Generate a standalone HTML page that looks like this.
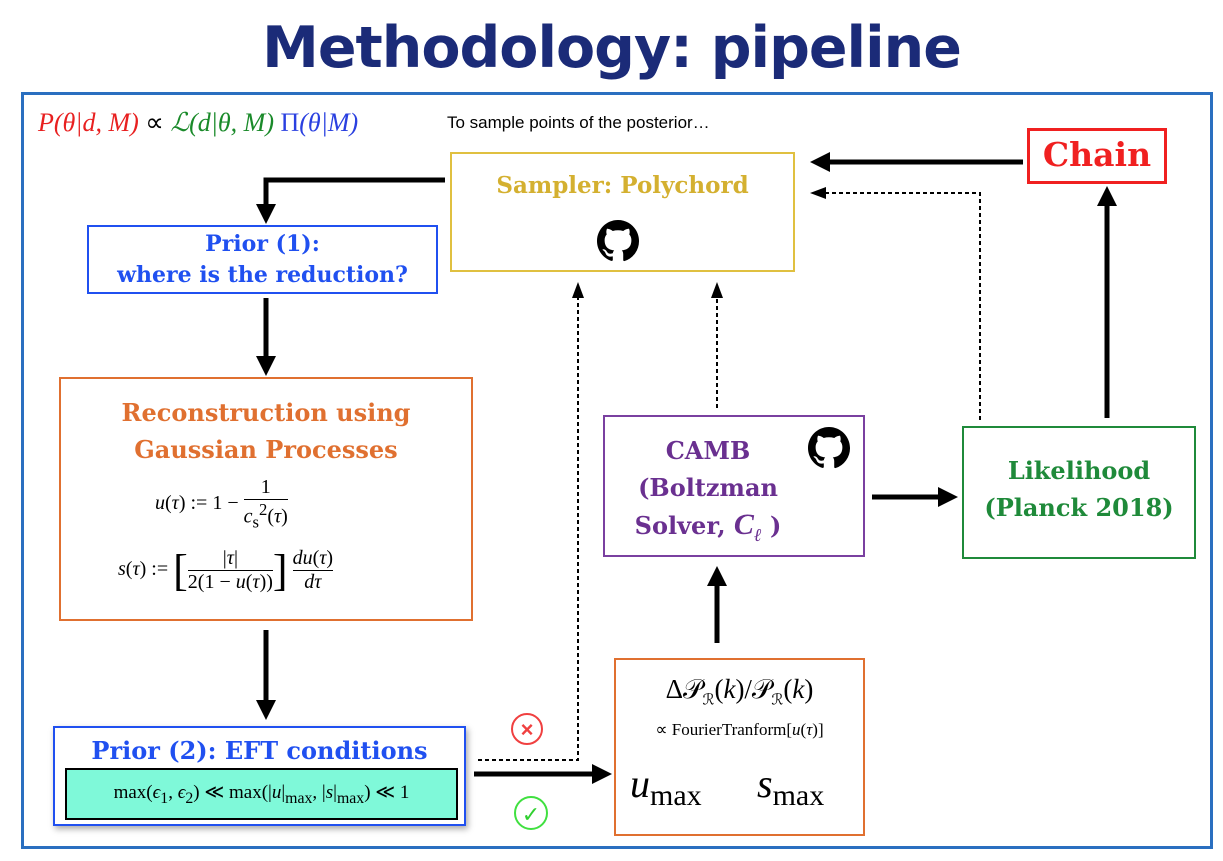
<!DOCTYPE html>
<html><head><meta charset="utf-8"><style>
body{margin:0;width:1223px;height:861px;background:#fff;position:relative;overflow:hidden;font-family:"Liberation Sans",sans-serif}
.a{position:absolute}
.box{position:absolute;box-sizing:border-box;background:#fff}
.t{position:absolute;text-align:center;font-family:"DejaVu Serif","Liberation Serif",serif;font-weight:900}
.m{font-family:"Liberation Serif",serif;position:absolute}
</style></head><body>
<div class="a" style="left:0;top:15px;width:1223px;text-align:center;font-size:57px;font-weight:bold;color:#1b2b78;letter-spacing:-1px;font-family:'DejaVu Sans','Liberation Sans',sans-serif">Methodology: pipeline</div>
<div class="box" style="left:21px;top:92px;width:1192px;height:757px;border:3px solid #2a6fc0;background:transparent"></div>
<div class="m" style="left:38px;top:108px;font-size:26px;font-style:italic"><span style="color:#e82020">P(θ|d, M)</span> <span style="font-style:normal">∝</span> <span style="color:#1a8a2a">ℒ(d|θ, M)</span> <span style="color:#2a40e0"><span style="font-style:normal">Π</span>(θ|M)</span></div>
<div class="a" style="left:447px;top:113px;font-size:17px">To sample points of the posterior…</div>

<svg class="a" style="left:0;top:0" width="1223" height="861">
<defs><marker id="h" markerWidth="4" markerHeight="4" refX="2" refY="2" orient="auto" markerUnits="strokeWidth"><path d="M0,0L4,2L0,4z" fill="#000"/></marker>
<marker id="d" markerWidth="8" markerHeight="8" refX="4" refY="4" orient="auto" markerUnits="strokeWidth"><path d="M0,1L8,4L0,7z" fill="#000"/></marker></defs>
<g stroke="#000" stroke-width="5" fill="none">
<path d="M445,180H266V214" marker-end="url(#h)"/>
<path d="M1023,162H820" marker-end="url(#h)"/>
<path d="M266,298V366" marker-end="url(#h)"/>
<path d="M266,630V710" marker-end="url(#h)"/>
<path d="M474,774H602" marker-end="url(#h)"/>
<path d="M717,643V576" marker-end="url(#h)"/>
<path d="M872,497H948" marker-end="url(#h)"/>
<path d="M1107,418V196" marker-end="url(#h)"/>
</g>
<g stroke="#000" stroke-width="2" stroke-dasharray="4,3" fill="none">
<path d="M980,420V193H818" marker-end="url(#d)"/>
<path d="M478,760H578V290" marker-end="url(#d)"/>
<path d="M717,408V290" marker-end="url(#d)"/>
</g>
<circle cx="527" cy="729" r="15" fill="none" stroke="#f04040" stroke-width="2"/>
<text x="527" y="737" text-anchor="middle" font-size="22" font-weight="bold" fill="#f04040" font-family="Liberation Sans">×</text>
<circle cx="531" cy="813" r="16" fill="none" stroke="#40e040" stroke-width="2"/>
<text x="531" y="822" text-anchor="middle" font-size="22" fill="#30d030" font-family="DejaVu Sans">✓</text>
</svg>

<div class="box" style="left:450px;top:152px;width:345px;height:120px;border:2px solid #e0c040"></div>
<div class="t" style="left:450px;top:172px;width:345px;font-size:23px;color:#d4b030">Sampler: Polychord</div>
<svg class="a" style="left:597px;top:220px" width="42" height="42" viewBox="0 0 16 16"><path fill="#000" d="M8 0C3.58 0 0 3.58 0 8c0 3.54 2.29 6.53 5.47 7.59.4.07.55-.17.55-.38v-1.33c-2.23.48-2.7-1.07-2.7-1.07-.36-.92-.89-1.17-.89-1.17-.73-.5.05-.49.05-.49.8.06 1.23.83 1.23.83.72 1.22 1.87.87 2.33.66.07-.52.28-.87.5-1.07-1.78-.2-3.64-.89-3.64-3.95 0-.87.31-1.59.82-2.15-.08-.2-.36-1.02.08-2.12 0 0 .67-.21 2.2.82a7.6 7.6 0 014 0c1.53-1.04 2.2-.82 2.2-.82.44 1.1.16 1.92.08 2.12.51.56.82 1.27.82 2.15 0 3.07-1.87 3.75-3.65 3.95.29.25.54.73.54 1.48v2.2c0 .21.15.46.55.38A8.01 8.01 0 0016 8c0-4.42-3.58-8-8-8z"/></svg>

<div class="box" style="left:1027px;top:128px;width:140px;height:56px;border:3px solid #f02020"></div>
<div class="t" style="left:1027px;top:135px;width:140px;font-size:33px;color:#f02020">Chain</div>

<div class="box" style="left:87px;top:225px;width:351px;height:69px;border:2px solid #2050f0"></div>
<div class="t" style="left:87px;top:229px;width:351px;font-size:22px;line-height:31px;color:#2050f0">Prior (1):<br>where is the reduction?</div>

<div class="box" style="left:59px;top:377px;width:414px;height:244px;border:2px solid #e07030"></div>
<div class="t" style="left:59px;top:394px;width:414px;font-size:24px;line-height:37px;color:#e07030">Reconstruction using<br>Gaussian Processes</div>
<div class="m" style="left:155px;top:476px;font-size:20px"><i>u</i>(<i>τ</i>) := 1 − <span style="display:inline-block;vertical-align:middle;text-align:center"><span style="display:block;border-bottom:1px solid #000">1</span><span style="display:block"><i>c</i><sub>s</sub><sup>2</sup>(<i>τ</i>)</span></span></div>
<div class="m" style="left:118px;top:545px;font-size:20px"><i>s</i>(<i>τ</i>) := <span style="font-size:44px;vertical-align:middle">[</span><span style="display:inline-block;vertical-align:middle;text-align:center"><span style="display:block;border-bottom:1px solid #000">|<i>τ</i>|</span><span style="display:block">2(1 − <i>u</i>(<i>τ</i>))</span></span><span style="font-size:44px;vertical-align:middle">]</span> <span style="display:inline-block;vertical-align:middle;text-align:center"><span style="display:block;border-bottom:1px solid #000"><i>du</i>(<i>τ</i>)</span><span style="display:block"><i>dτ</i></span></span></div>

<div class="box" style="left:53px;top:726px;width:413px;height:100px;border:2px solid #2050f0;box-shadow:2px 3px 6px #aaa"></div>
<div class="t" style="left:53px;top:736px;width:413px;font-size:24px;color:#2050f0">Prior (2): EFT conditions</div>
<div class="box" style="left:65px;top:768px;width:393px;height:52px;border:2px solid #000;background:#7ff9d9"></div>
<div class="m" style="left:65px;top:781px;width:393px;text-align:center;font-size:19px">max(<i>ϵ</i><sub>1</sub>, <i>ϵ</i><sub>2</sub>) ≪ max(|<i>u</i>|<sub>max</sub>, |<i>s</i>|<sub>max</sub>) ≪ 1</div>

<div class="box" style="left:603px;top:415px;width:262px;height:142px;border:2px solid #7a40a0"></div>
<div class="t" style="left:603px;top:432px;width:210px;font-size:24px;line-height:37px;color:#6a3090">CAMB<br>(Boltzman<br>Solver, <i style="font-family:'Liberation Serif',serif;font-size:30px">C<sub style="font-size:18px">ℓ</sub></i> )</div>
<svg class="a" style="left:808px;top:427px" width="42" height="42" viewBox="0 0 16 16"><path fill="#000" d="M8 0C3.58 0 0 3.58 0 8c0 3.54 2.29 6.53 5.47 7.59.4.07.55-.17.55-.38v-1.33c-2.23.48-2.7-1.07-2.7-1.07-.36-.92-.89-1.17-.89-1.17-.73-.5.05-.49.05-.49.8.06 1.23.83 1.23.83.72 1.22 1.87.87 2.33.66.07-.52.28-.87.5-1.07-1.78-.2-3.64-.89-3.64-3.95 0-.87.31-1.59.82-2.15-.08-.2-.36-1.02.08-2.12 0 0 .67-.21 2.2.82a7.6 7.6 0 014 0c1.53-1.04 2.2-.82 2.2-.82.44 1.1.16 1.92.08 2.12.51.56.82 1.27.82 2.15 0 3.07-1.87 3.75-3.65 3.95.29.25.54.73.54 1.48v2.2c0 .21.15.46.55.38A8.01 8.01 0 0016 8c0-4.42-3.58-8-8-8z"/></svg>

<div class="box" style="left:962px;top:426px;width:234px;height:133px;border:2px solid #1f8a3a"></div>
<div class="t" style="left:962px;top:452px;width:234px;font-size:24px;line-height:37px;color:#1f8a3a">Likelihood<br>(Planck 2018)</div>

<div class="box" style="left:614px;top:658px;width:251px;height:178px;border:2px solid #e07030"></div>
<div class="m" style="left:614px;top:674px;width:251px;text-align:center;font-size:27px">Δ𝒫<sub style="font-size:15px">ℛ</sub>(<i>k</i>)/𝒫<sub style="font-size:15px">ℛ</sub>(<i>k</i>)</div>
<div class="m" style="left:614px;top:720px;width:251px;text-align:center;font-size:17px">∝ FourierTranform[<i>u</i>(<i>τ</i>)]</div>
<div class="m" style="left:630px;top:760px;font-size:40px"><i>u</i><span style="font-size:30px;position:relative;top:8px">max</span></div>
<div class="m" style="left:757px;top:760px;font-size:40px"><i>s</i><span style="font-size:30px;position:relative;top:8px">max</span></div>
</body></html>
